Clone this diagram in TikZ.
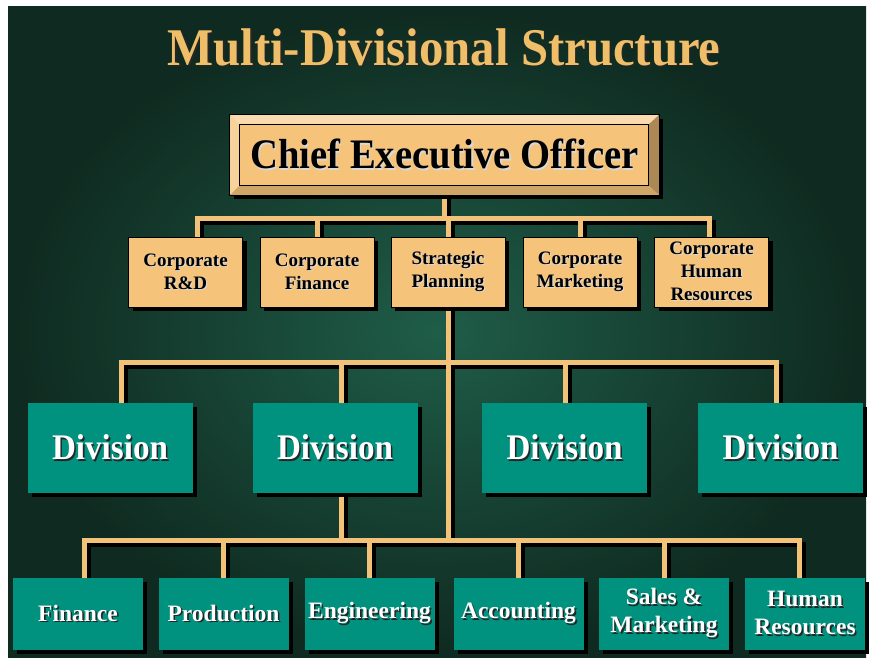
\documentclass[tikz,border=0pt]{standalone}
\usepackage{fontspec}
\setmainfont{Liberation Serif}
\newfontfamily\narrowserif{Liberation Serif}[FakeStretch=0.92]
\usetikzlibrary{calc,shadows}

\definecolor{bgin}{HTML}{1F5D48}
\definecolor{bgout}{HTML}{0F2A20}
\definecolor{tanclr}{HTML}{F5C37A}
\definecolor{tealclr}{HTML}{00917F}
\definecolor{lineclr}{HTML}{F2C278}
\definecolor{titleclr}{HTML}{EEBE68}

\newcommand\litshadow[1]{\rlap{\hspace{1.2pt}\raisebox{-1.2pt}{\color{white!85!black}#1}}#1}
\newcommand\darkshadow[1]{\rlap{\hspace{1.6pt}\raisebox{-1.6pt}{\color{black!85}#1}}#1}

\pgfdeclarelayer{bg}
\pgfdeclarelayer{lines}
\pgfsetlayers{bg,lines,main}

\tikzset{
	boxshadow/.style={drop shadow={shadow xshift=4pt,shadow yshift=-4pt,fill=black,opacity=1}},
	ceobox/.style={boxshadow,fill=tanclr,draw=black,line width=0.6pt,minimum width=429pt,minimum height=80pt,inner sep=0pt,font=\narrowserif\bfseries\fontsize{42}{46}\selectfont},
	staffbox/.style={boxshadow,fill=tanclr,draw=black,line width=0.6pt,minimum width=114pt,minimum height=70pt,align=center,inner sep=0pt,font=\bfseries\fontsize{19}{23}\selectfont},
	divbox/.style={boxshadow,fill=tealclr,minimum width=165pt,minimum height=90pt,inner sep=0pt,text=white,font=\narrowserif\bfseries\fontsize{36}{40}\selectfont},
	unitbox/.style={boxshadow,fill=tealclr,minimum width=130pt,minimum height=72pt,align=center,inner sep=0pt,text=white,font=\bfseries\fontsize{23.5}{28}\selectfont},
	link/.style={line width=5pt},
}

\begin{document}
\begin{tikzpicture}[x=1pt,y=-1pt]
	\useasboundingbox (0,0) rectangle (872,657);
	\begin{pgfonlayer}{bg}
		\fill[white] (0,0) rectangle (872,657);
		\shade[inner color=bgin,outer color=bgout] (8,6) rectangle (866,657);
	\end{pgfonlayer}

	% title and chief executive
	\node[font=\narrowserif\bfseries\fontsize{53}{60}\selectfont,text=titleclr,anchor=base] (title) at (444,65) {\darkshadow{Multi-Divisional Structure}};
	\node[ceobox] (ceo) at (444.5,155) {\litshadow{Chief Executive Officer}};
	\fill[tanclr!60!white] (ceo.north west) -- (ceo.north east) -- ($(ceo.north east)+(-11,10)$) -- ($(ceo.north west)+(10,10)$) -- cycle;
	\fill[tanclr!75!white] (ceo.north west) -- ($(ceo.north west)+(10,10)$) -- ($(ceo.south west)+(10,-10)$) -- (ceo.south west) -- cycle;
	\fill[tanclr!70!black] (ceo.north east) -- (ceo.south east) -- ($(ceo.south east)+(-11,-10)$) -- ($(ceo.north east)+(-11,10)$) -- cycle;
	\fill[tanclr!85!black] (ceo.south west) -- ($(ceo.south west)+(10,-10)$) -- ($(ceo.south east)+(-11,-10)$) -- (ceo.south east) -- cycle;
	\draw[line width=0.6pt] (ceo.north west) rectangle (ceo.south east);
	\draw[line width=0.6pt] ($(ceo.north west)+(10,10)$) rectangle ($(ceo.south east)+(-11,-10)$);

	% corporate staff
	\node[staffbox] (rnd) at (185.5,272) {\litshadow{Corporate}\\\litshadow{R\&D}};
	\node[staffbox] (cfin) at (317,272) {\litshadow{Corporate}\\\litshadow{Finance}};
	\node[staffbox] (plan) at (448,272) {\litshadow{Strategic}\\\litshadow{Planning}};
	\node[staffbox] (cmkt) at (580,272) {\litshadow{Corporate}\\\litshadow{Marketing}};
	\node[staffbox] (chr) at (711.5,272) {\litshadow{Corporate}\\\litshadow{Human}\\\litshadow{Resources}};

	% divisions
	\foreach \i/\x in {1/110,2/335,3/564.5,4/780.5}
		\node[divbox] (div\i) at (\x,448) {\darkshadow{Division}};

	% functional units
	\node[unitbox] (ufin) at (78,614) {\darkshadow{Finance}};
	\node[unitbox] (uprod) at (223.5,614) {\darkshadow{Production}};
	\node[unitbox] (ueng) at (369.5,614) {\darkshadow{Engineering}};
	\node[unitbox] (uacc) at (518.5,614) {\darkshadow{Accounting}};
	\node[unitbox] (usal) at (664,614) {\darkshadow{Sales \&}\\\darkshadow{Marketing}};
	\node[unitbox,minimum width=120pt] (uhr) at (805,614) {\darkshadow{Human}\\\darkshadow{Resources}};

	% connectors
	\coordinate (topl) at (197,218);
	\coordinate (topr) at (709,218);
	\coordinate (midl) at (121,362);
	\coordinate (midr) at (776,362);
	\coordinate (d2t) at (341,362);
	\coordinate (d3t) at (565,362);
	\coordinate (lowl) at (84,540);
	\coordinate (lowr) at (799,540);
	\begin{pgfonlayer}{lines}
		\foreach \off/\col in {4/black,0/lineclr}{
			\begin{scope}[transform canvas={shift={(\off pt,-\off pt)}},link/.append style={draw=\col}]
				\draw[link] (ceo.south) -- (ceo.south |- topl);
				\draw[link] (topl |- rnd.north) -- (topl) -- (topr) -- (topr |- chr.north);
				\foreach \n in {cfin,plan,cmkt}
					\draw[link] (\n.north) -- (\n.north |- topl);
				\draw[link] (plan.south) -- (plan.south |- lowl);
				\draw[link] (midl |- div1.north) -- (midl) -- (midr) -- (midr |- div4.north);
				\draw[link] (d2t) -- (d2t |- div2.north);
				\draw[link] (d3t) -- (d3t |- div3.north);
				\draw[link] (d2t |- div2.south) -- (d2t |- lowl);
				\draw[link] (lowl |- ufin.north) -- (lowl) -- (lowr) -- (lowr |- uhr.north);
				\foreach \n in {uprod,ueng,uacc,usal}
					\draw[link] (\n.north) -- (\n.north |- lowl);
			\end{scope}
		}
	\end{pgfonlayer}
\end{tikzpicture}
\end{document}
